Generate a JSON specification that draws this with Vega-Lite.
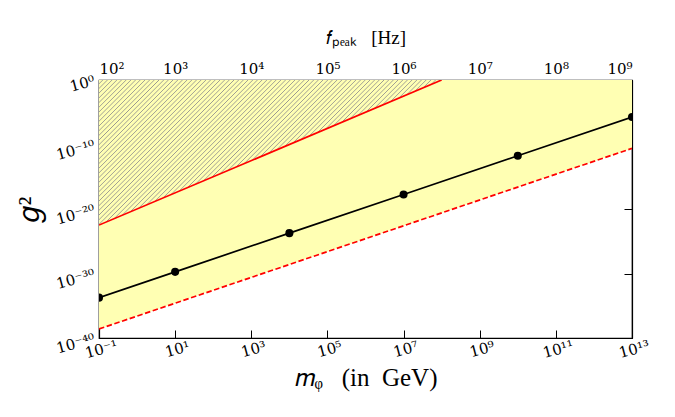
{
  "$schema": "https://vega.github.io/schema/vega-lite/v6.json",
  "width": 533,
  "height": 258,
  "autosize": {"type": "none"},
  "padding": {"left": 99, "top": 80, "right": 43, "bottom": 79},
  "background": "white",
  "config": {
    "view": {"stroke": "black", "strokeWidth": 1.2},
    "axis": {
      "grid": false,
      "domainColor": "black",
      "domainWidth": 1.2,
      "tickColor": "black",
      "tickSize": -8,
      "tickWidth": 1,
      "labelFont": "DejaVu Serif",
      "labelFontSize": 15,
      "labelColor": "black",
      "titleFont": "Liberation Serif",
      "titleColor": "black",
      "titleFontWeight": "normal",
      "labelExpr": "'10' + (datum.value < 1 ? '⁻' : '') + (abs(round(log(datum.value)/LN10)) >= 10 ? substring('⁰¹²³⁴⁵⁶⁷⁸⁹', floor(abs(round(log(datum.value)/LN10))/10), floor(abs(round(log(datum.value)/LN10))/10) + 1) : '') + substring('⁰¹²³⁴⁵⁶⁷⁸⁹', abs(round(log(datum.value)/LN10)) % 10, abs(round(log(datum.value)/LN10)) % 10 + 1)"
    }
  },
  "datasets": {
    "curves": [
      {"series": "bound", "m": 0.1, "g2": 3.2e-23},
      {"series": "bound", "m": 1e8, "g2": 1},
      {"series": "dashed", "m": 0.1, "g2": 2.5e-39},
      {"series": "dashed", "m": 1e13, "g2": 2.5e-11},
      {"series": "model", "m": 0.1, "g2": 1.8e-34},
      {"series": "model", "m": 10, "g2": 1.8e-30},
      {"series": "model", "m": 1e4, "g2": 1.8e-24},
      {"series": "model", "m": 1e7, "g2": 1.8e-18},
      {"series": "model", "m": 1e10, "g2": 1.8e-12},
      {"series": "model", "m": 1e13, "g2": 1.8e-6}
    ],
    "freq": [
      {"f": 100, "g2": 1e-40},
      {"f": 1e9, "g2": 1}
    ]
  },
  "layer": [
    {
      "data": {"name": "curves"},
      "encoding": {
        "x": {
          "field": "m",
          "type": "quantitative",
          "scale": {"type": "log", "domain": [0.1, 1e13]},
          "axis": {
            "orient": "bottom",
            "values": [0.1, 10, 1000, 100000, 1e7, 1e9, 1e11, 1e13],
            "labelAngle": -15,
            "labelAlign": "center",
            "labelBaseline": "top",
            "labelPadding": 12,
            "title": "𝑚ᵩ\u00a0\u00a0\u00a0(in\u00a0\u00a0GeV)",
            "titleFontSize": 25,
            "titlePadding": 5
          }
        },
        "y": {
          "field": "g2",
          "type": "quantitative",
          "scale": {"type": "log", "domain": [1e-40, 1]},
          "axis": {
            "orient": "left",
            "values": [1e-40, 1e-30, 1e-20, 1e-10, 1],
            "labelAngle": -15,
            "labelAlign": "right",
            "labelBaseline": "middle",
            "labelPadding": 13,
            "title": "𝑔²",
            "titleFontSize": 30,
            "titleAngle": -90,
            "titlePadding": 10
          }
        }
      },
      "layer": [
        {
          "transform": [{"filter": "datum.series === 'dashed'"}],
          "mark": {"type": "area", "clip": true, "color": "#ffffb3", "opacity": 1},
          "encoding": {"y2": {"datum": 1}}
        },
        {
          "transform": [{"filter": "datum.series === 'bound'"}],
          "mark": {
            "type": "area",
            "clip": true,
            "fill": {
              "gradient": "linear",
              "x1": 0, "y1": 0, "x2": 1, "y2": 0.4235,
              "stops": [
                {"offset": 0, "color": "#ffffb3"}, {"offset": 0.00696, "color": "#ffffb3"}, {"offset": 0.00928, "color": "#9a9a92"},
                {"offset": 0.0116, "color": "#ffffb3"}, {"offset": 0.01856, "color": "#ffffb3"}, {"offset": 0.02088, "color": "#9a9a92"},
                {"offset": 0.0232, "color": "#ffffb3"}, {"offset": 0.03016, "color": "#ffffb3"}, {"offset": 0.03248, "color": "#9a9a92"},
                {"offset": 0.0348, "color": "#ffffb3"}, {"offset": 0.04176, "color": "#ffffb3"}, {"offset": 0.04408, "color": "#9a9a92"},
                {"offset": 0.0464, "color": "#ffffb3"}, {"offset": 0.05336, "color": "#ffffb3"}, {"offset": 0.05568, "color": "#9a9a92"},
                {"offset": 0.058, "color": "#ffffb3"}, {"offset": 0.06496, "color": "#ffffb3"}, {"offset": 0.06728, "color": "#9a9a92"},
                {"offset": 0.0696, "color": "#ffffb3"}, {"offset": 0.07656, "color": "#ffffb3"}, {"offset": 0.07888, "color": "#9a9a92"},
                {"offset": 0.0812, "color": "#ffffb3"}, {"offset": 0.08816, "color": "#ffffb3"}, {"offset": 0.09048, "color": "#9a9a92"},
                {"offset": 0.0928, "color": "#ffffb3"}, {"offset": 0.09976, "color": "#ffffb3"}, {"offset": 0.10208, "color": "#9a9a92"},
                {"offset": 0.1044, "color": "#ffffb3"}, {"offset": 0.11136, "color": "#ffffb3"}, {"offset": 0.11368, "color": "#9a9a92"},
                {"offset": 0.116, "color": "#ffffb3"}, {"offset": 0.12296, "color": "#ffffb3"}, {"offset": 0.12528, "color": "#9a9a92"},
                {"offset": 0.1276, "color": "#ffffb3"}, {"offset": 0.13456, "color": "#ffffb3"}, {"offset": 0.13688, "color": "#9a9a92"},
                {"offset": 0.1392, "color": "#ffffb3"}, {"offset": 0.14616, "color": "#ffffb3"}, {"offset": 0.14848, "color": "#9a9a92"},
                {"offset": 0.1508, "color": "#ffffb3"}, {"offset": 0.15776, "color": "#ffffb3"}, {"offset": 0.16008, "color": "#9a9a92"},
                {"offset": 0.1624, "color": "#ffffb3"}, {"offset": 0.16936, "color": "#ffffb3"}, {"offset": 0.17168, "color": "#9a9a92"},
                {"offset": 0.174, "color": "#ffffb3"}, {"offset": 0.18096, "color": "#ffffb3"}, {"offset": 0.18328, "color": "#9a9a92"},
                {"offset": 0.1856, "color": "#ffffb3"}, {"offset": 0.19256, "color": "#ffffb3"}, {"offset": 0.19488, "color": "#9a9a92"},
                {"offset": 0.1972, "color": "#ffffb3"}, {"offset": 0.20416, "color": "#ffffb3"}, {"offset": 0.20648, "color": "#9a9a92"},
                {"offset": 0.2088, "color": "#ffffb3"}, {"offset": 0.21576, "color": "#ffffb3"}, {"offset": 0.21808, "color": "#9a9a92"},
                {"offset": 0.2204, "color": "#ffffb3"}, {"offset": 0.22736, "color": "#ffffb3"}, {"offset": 0.22968, "color": "#9a9a92"},
                {"offset": 0.232, "color": "#ffffb3"}, {"offset": 0.23896, "color": "#ffffb3"}, {"offset": 0.24128, "color": "#9a9a92"},
                {"offset": 0.2436, "color": "#ffffb3"}, {"offset": 0.25056, "color": "#ffffb3"}, {"offset": 0.25288, "color": "#9a9a92"},
                {"offset": 0.2552, "color": "#ffffb3"}, {"offset": 0.26216, "color": "#ffffb3"}, {"offset": 0.26448, "color": "#9a9a92"},
                {"offset": 0.2668, "color": "#ffffb3"}, {"offset": 0.27376, "color": "#ffffb3"}, {"offset": 0.27608, "color": "#9a9a92"},
                {"offset": 0.2784, "color": "#ffffb3"}, {"offset": 0.28536, "color": "#ffffb3"}, {"offset": 0.28768, "color": "#9a9a92"},
                {"offset": 0.29, "color": "#ffffb3"}, {"offset": 0.29696, "color": "#ffffb3"}, {"offset": 0.29928, "color": "#9a9a92"},
                {"offset": 0.3016, "color": "#ffffb3"}, {"offset": 0.30856, "color": "#ffffb3"}, {"offset": 0.31088, "color": "#9a9a92"},
                {"offset": 0.3132, "color": "#ffffb3"}, {"offset": 0.32016, "color": "#ffffb3"}, {"offset": 0.32248, "color": "#9a9a92"},
                {"offset": 0.3248, "color": "#ffffb3"}, {"offset": 0.33176, "color": "#ffffb3"}, {"offset": 0.33408, "color": "#9a9a92"},
                {"offset": 0.3364, "color": "#ffffb3"}, {"offset": 0.34336, "color": "#ffffb3"}, {"offset": 0.34568, "color": "#9a9a92"},
                {"offset": 0.348, "color": "#ffffb3"}, {"offset": 0.35496, "color": "#ffffb3"}, {"offset": 0.35728, "color": "#9a9a92"},
                {"offset": 0.3596, "color": "#ffffb3"}, {"offset": 0.36656, "color": "#ffffb3"}, {"offset": 0.36888, "color": "#9a9a92"},
                {"offset": 0.3712, "color": "#ffffb3"}, {"offset": 0.37816, "color": "#ffffb3"}, {"offset": 0.38048, "color": "#9a9a92"},
                {"offset": 0.3828, "color": "#ffffb3"}, {"offset": 0.38976, "color": "#ffffb3"}, {"offset": 0.39208, "color": "#9a9a92"},
                {"offset": 0.3944, "color": "#ffffb3"}, {"offset": 0.40136, "color": "#ffffb3"}, {"offset": 0.40368, "color": "#9a9a92"},
                {"offset": 0.406, "color": "#ffffb3"}, {"offset": 0.41296, "color": "#ffffb3"}, {"offset": 0.41528, "color": "#9a9a92"},
                {"offset": 0.4176, "color": "#ffffb3"}, {"offset": 0.42456, "color": "#ffffb3"}, {"offset": 0.42688, "color": "#9a9a92"},
                {"offset": 0.4292, "color": "#ffffb3"}, {"offset": 0.43616, "color": "#ffffb3"}, {"offset": 0.43848, "color": "#9a9a92"},
                {"offset": 0.4408, "color": "#ffffb3"}, {"offset": 0.44776, "color": "#ffffb3"}, {"offset": 0.45008, "color": "#9a9a92"},
                {"offset": 0.4524, "color": "#ffffb3"}, {"offset": 0.45936, "color": "#ffffb3"}, {"offset": 0.46168, "color": "#9a9a92"},
                {"offset": 0.464, "color": "#ffffb3"}, {"offset": 0.47096, "color": "#ffffb3"}, {"offset": 0.47328, "color": "#9a9a92"},
                {"offset": 0.4756, "color": "#ffffb3"}, {"offset": 0.48256, "color": "#ffffb3"}, {"offset": 0.48488, "color": "#9a9a92"},
                {"offset": 0.4872, "color": "#ffffb3"}, {"offset": 0.49416, "color": "#ffffb3"}, {"offset": 0.49648, "color": "#9a9a92"},
                {"offset": 0.4988, "color": "#ffffb3"}, {"offset": 0.50576, "color": "#ffffb3"}, {"offset": 0.50808, "color": "#9a9a92"},
                {"offset": 0.5104, "color": "#ffffb3"}, {"offset": 0.51736, "color": "#ffffb3"}, {"offset": 0.51968, "color": "#9a9a92"},
                {"offset": 0.522, "color": "#ffffb3"}, {"offset": 0.52896, "color": "#ffffb3"}, {"offset": 0.53128, "color": "#9a9a92"},
                {"offset": 0.5336, "color": "#ffffb3"}, {"offset": 0.54056, "color": "#ffffb3"}, {"offset": 0.54288, "color": "#9a9a92"},
                {"offset": 0.5452, "color": "#ffffb3"}, {"offset": 0.55216, "color": "#ffffb3"}, {"offset": 0.55448, "color": "#9a9a92"},
                {"offset": 0.5568, "color": "#ffffb3"}, {"offset": 0.56376, "color": "#ffffb3"}, {"offset": 0.56608, "color": "#9a9a92"},
                {"offset": 0.5684, "color": "#ffffb3"}, {"offset": 0.57536, "color": "#ffffb3"}, {"offset": 0.57768, "color": "#9a9a92"},
                {"offset": 0.58, "color": "#ffffb3"}, {"offset": 0.58696, "color": "#ffffb3"}, {"offset": 0.58928, "color": "#9a9a92"},
                {"offset": 0.5916, "color": "#ffffb3"}, {"offset": 0.59856, "color": "#ffffb3"}, {"offset": 0.60088, "color": "#9a9a92"},
                {"offset": 0.6032, "color": "#ffffb3"}, {"offset": 0.61016, "color": "#ffffb3"}, {"offset": 0.61248, "color": "#9a9a92"},
                {"offset": 0.6148, "color": "#ffffb3"}, {"offset": 0.62176, "color": "#ffffb3"}, {"offset": 0.62408, "color": "#9a9a92"},
                {"offset": 0.6264, "color": "#ffffb3"}, {"offset": 0.63336, "color": "#ffffb3"}, {"offset": 0.63568, "color": "#9a9a92"},
                {"offset": 0.638, "color": "#ffffb3"}, {"offset": 0.64496, "color": "#ffffb3"}, {"offset": 0.64728, "color": "#9a9a92"},
                {"offset": 0.6496, "color": "#ffffb3"}, {"offset": 0.65656, "color": "#ffffb3"}, {"offset": 0.65888, "color": "#9a9a92"},
                {"offset": 0.6612, "color": "#ffffb3"}, {"offset": 0.66816, "color": "#ffffb3"}, {"offset": 0.67048, "color": "#9a9a92"},
                {"offset": 0.6728, "color": "#ffffb3"}, {"offset": 0.67976, "color": "#ffffb3"}, {"offset": 0.68208, "color": "#9a9a92"},
                {"offset": 0.6844, "color": "#ffffb3"}, {"offset": 0.69136, "color": "#ffffb3"}, {"offset": 0.69368, "color": "#9a9a92"},
                {"offset": 0.696, "color": "#ffffb3"}, {"offset": 0.70296, "color": "#ffffb3"}, {"offset": 0.70528, "color": "#9a9a92"},
                {"offset": 0.7076, "color": "#ffffb3"}, {"offset": 0.71456, "color": "#ffffb3"}, {"offset": 0.71688, "color": "#9a9a92"},
                {"offset": 0.7192, "color": "#ffffb3"}, {"offset": 0.72616, "color": "#ffffb3"}, {"offset": 0.72848, "color": "#9a9a92"},
                {"offset": 0.7308, "color": "#ffffb3"}, {"offset": 0.73776, "color": "#ffffb3"}, {"offset": 0.74008, "color": "#9a9a92"},
                {"offset": 0.7424, "color": "#ffffb3"}, {"offset": 0.74936, "color": "#ffffb3"}, {"offset": 0.75168, "color": "#9a9a92"},
                {"offset": 0.754, "color": "#ffffb3"}, {"offset": 0.76096, "color": "#ffffb3"}, {"offset": 0.76328, "color": "#9a9a92"},
                {"offset": 0.7656, "color": "#ffffb3"}, {"offset": 0.77256, "color": "#ffffb3"}, {"offset": 0.77488, "color": "#9a9a92"},
                {"offset": 0.7772, "color": "#ffffb3"}, {"offset": 0.78416, "color": "#ffffb3"}, {"offset": 0.78648, "color": "#9a9a92"},
                {"offset": 0.7888, "color": "#ffffb3"}, {"offset": 0.79576, "color": "#ffffb3"}, {"offset": 0.79808, "color": "#9a9a92"},
                {"offset": 0.8004, "color": "#ffffb3"}, {"offset": 0.80736, "color": "#ffffb3"}, {"offset": 0.80968, "color": "#9a9a92"},
                {"offset": 0.812, "color": "#ffffb3"}, {"offset": 0.81896, "color": "#ffffb3"}, {"offset": 0.82128, "color": "#9a9a92"},
                {"offset": 0.8236, "color": "#ffffb3"}, {"offset": 0.83056, "color": "#ffffb3"}, {"offset": 0.83288, "color": "#9a9a92"},
                {"offset": 0.8352, "color": "#ffffb3"}, {"offset": 0.84216, "color": "#ffffb3"}, {"offset": 0.84448, "color": "#9a9a92"},
                {"offset": 0.8468, "color": "#ffffb3"}, {"offset": 0.85376, "color": "#ffffb3"}, {"offset": 0.85608, "color": "#9a9a92"},
                {"offset": 0.8584, "color": "#ffffb3"}
              ]
            }
          },
          "encoding": {"y2": {"datum": 1}}
        },
        {
          "transform": [{"filter": "datum.series === 'bound'"}],
          "mark": {"type": "line", "clip": true, "color": "#ff0000", "strokeWidth": 1.7}
        },
        {
          "transform": [{"filter": "datum.series === 'dashed'"}],
          "mark": {"type": "line", "clip": true, "color": "#ff0000", "strokeWidth": 1.7, "strokeDash": [5.5, 2.6]}
        },
        {
          "transform": [{"filter": "datum.series === 'model'"}],
          "mark": {"type": "line", "clip": true, "color": "black", "strokeWidth": 1.7}
        },
        {
          "transform": [{"filter": "datum.series === 'model'"}],
          "mark": {"type": "point", "clip": true, "filled": true, "color": "black", "opacity": 1, "size": 65}
        }
      ]
    },
    {
      "data": {"name": "freq"},
      "mark": {"type": "point", "opacity": 0},
      "encoding": {
        "x": {
          "field": "f",
          "type": "quantitative",
          "scale": {"type": "log", "domain": [100, 1e9]},
          "axis": {
            "orient": "top",
            "values": [100, 1000, 10000, 100000, 1e6, 1e7, 1e8, 1e9],
            "labelAngle": 0,
            "labelPadding": 12,
            "title": "𝑓ₚₑₐₖ\u00a0\u00a0\u00a0[Hz]",
            "titleFontSize": 19,
            "titlePadding": 14
          }
        },
        "y": {
          "field": "g2",
          "type": "quantitative",
          "scale": {"type": "log", "domain": [1e-40, 1]},
          "axis": {
            "orient": "right",
            "values": [1e-40, 1e-30, 1e-20, 1e-10, 1],
            "labels": false,
            "title": null
          }
        }
      }
    }
  ],
  "resolve": {"scale": {"x": "independent", "y": "independent"}}
}
